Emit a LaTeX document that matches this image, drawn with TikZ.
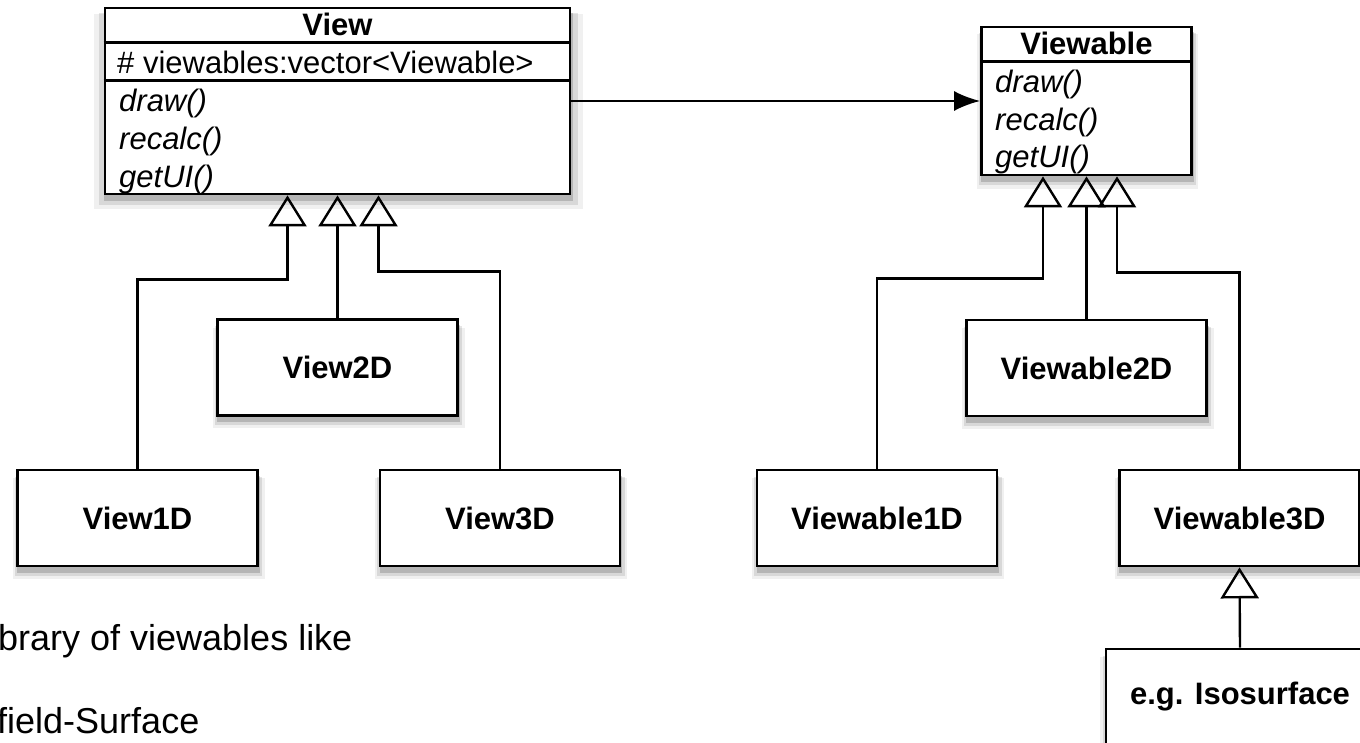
\documentclass[tikz,border=0pt]{standalone}
\usepackage{fontspec}
\setmainfont{Liberation Sans}
\usetikzlibrary{arrows.meta,shadows}
\begin{document}
\begin{tikzpicture}[x=1pt,y=1pt,
  shadowed/.style={general shadow={fill=black,opacity=.06,shadow xshift=1pt,shadow yshift=-10pt,shadow scale=1.05},
    general shadow={fill=black,opacity=.1,shadow xshift=1pt,shadow yshift=-8pt,shadow scale=1.03},
    general shadow={fill=black,opacity=.16,shadow xshift=1pt,shadow yshift=-6pt,shadow scale=1.01}},
  box/.style={draw,line width=2.8pt,fill=white,shadowed},
  subclass/.style={box,minimum width=240pt,minimum height=96pt,font=\fontsize{31}{37}\selectfont\bfseries},
  title/.style={inner sep=0pt,anchor=base,font=\fontsize{31}{37}\selectfont\bfseries},
  member/.style={inner sep=0pt,anchor=base west,font=\fontsize{31}{37}\selectfont},
  method/.style={member,font=\fontsize{31}{37}\selectfont\itshape},
  extends/.style={line width=2.4pt,-{Triangle[open,length=31pt,width=38pt]}},
  uses/.style={line width=2.4pt,-{Latex[length=26pt,width=20pt]}}]
\useasboundingbox (0,0) rectangle (1360,742);
\clip (0,0) rectangle (1360,742);
% base classes
\node[box,minimum width=465pt,minimum height=186pt] (view) at (337.5,641) {};
\draw[line width=2.8pt] ([yshift=-36pt]view.north west)--([yshift=-36pt]view.north east);
\draw[line width=2.8pt] ([yshift=-74pt]view.north west)--([yshift=-74pt]view.north east);
\node[title] (viewname) at (337.5,706) {View};
\node[member] (viewattr) at (117,668) {\# viewables:vector<Viewable>};
\foreach \m/\y in {draw()/630,recalc()/592,getUI()/554}
{
    \node[method] (viewm\y) at (119,\y) {\m};
}
\node[box,minimum width=210pt,minimum height=148pt] (viewable) at (1086.5,641) {};
\draw[line width=2.8pt] ([yshift=-36pt]viewable.north west)--([yshift=-36pt]viewable.north east);
\node[title] (viewablename) at (1086.5,687) {Viewable};
\foreach \m/\y in {draw()/649,recalc()/611,getUI()/574}
{
    \node[method] (viewablem\y) at (995,\y) {\m};
}
% subclasses
\node[subclass] (view1d) at (137.5,224) {View1D};
\node[subclass] (view2d) at (337.5,374.5) {View2D};
\node[subclass] (view3d) at (500,224) {View3D};
\node[subclass] (viewable1d) at (877,224) {Viewable1D};
\node[subclass] (viewable2d) at (1086.5,374) {Viewable2D};
\node[subclass] (viewable3d) at (1239.5,224) {Viewable3D};
\node[subclass,minimum width=268pt] (isosurface) at (1240,45) {e.g. Isosurface};
% connectors
\draw[uses] (view.east)--(viewable.west);
\draw[extends] (view1d.north)--++(0,189)-|([xshift=-50pt]view.south);
\draw[extends] (view2d.north)--(view.south);
\draw[extends] (view3d.north)--++(0,197)-|([xshift=41pt]view.south);
\draw[extends] (viewable1d.north)--++(0,190)-|([xshift=-43.5pt]viewable.south);
\draw[extends] (viewable2d.north)--(viewable.south);
\draw[extends] (viewable3d.north)--++(0,196)-|([xshift=30.5pt]viewable.south);
\draw[extends] (isosurface.north)--(viewable3d.south);
% notes
\node[inner sep=0pt,anchor=base west,font=\fontsize{36}{43}\selectfont] (libnote) at (-2,92) {brary of viewables like};
\node[inner sep=0pt,anchor=base west,font=\fontsize{36}{43}\selectfont] (fieldnote) at (-3,9) {field-Surface};
\end{tikzpicture}
\end{document}
